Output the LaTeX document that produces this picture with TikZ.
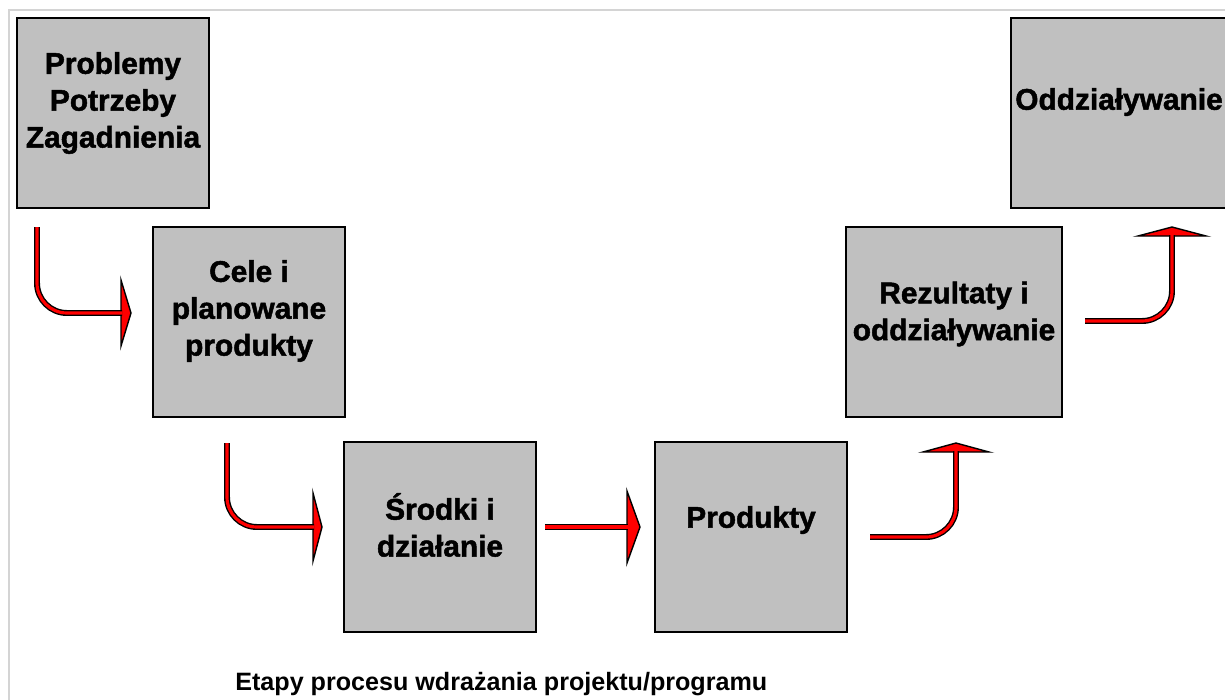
\documentclass[tikz,border=0pt]{standalone}
\usepackage{fontspec}
\setmainfont{Liberation Sans}
\newfontfamily\stagefont[FakeBold=1.6]{Liberation Sans Bold}

\definecolor{boxgray}{RGB}{192,192,192}
\definecolor{framegray}{RGB}{212,212,212}

\tikzset{
  stage/.style={draw=black, line width=1pt, fill=boxgray, minimum width=3.84cm, minimum height=3.8cm, inner sep=0pt},
  stagetext/.style={font=\stagefont\fontsize{17}{21}\selectfont, align=center, inner sep=0pt},
  shaft/.style={draw=black, line width=0.8pt, double=red, double distance=1.8pt, rounded corners=0.6cm},
  head/.style={draw=black, fill=red, line width=0.8pt, line join=miter}
}

\begin{document}
\begin{tikzpicture}[x=0.02cm, y=-0.02cm]

\useasboundingbox (0,0) rectangle (1225,700);
\clip (0,0) rectangle (1225,700);

\draw [framegray, line width=1.2pt] (9,720) -- (9,10) -- (1240,10);

% etapy
\node[stage] (b1) at (113,113) {};
\node[stage] (b2) at (249,322) {};
\node[stage] (b3) at (440,537) {};
\node[stage] (b4) at (751,537) {};
\node[stage, minimum width=4.32cm] (b5) at (954,322) {};
\node[stage, minimum width=4.32cm] (b6) at (1119,113) {};

\node[stagetext] (t1) at (113,103) {Problemy\\Potrzeby\\Zagadnienia};
\node[stagetext] (t2) at (249,311) {Cele i\\planowane\\produkty};
\node[stagetext] (t3) at (440,525) {Środki i\\działanie};
\node[stagetext] (t4) at (751,520) {Produkty};
\node[stagetext] (t5) at (954,314) {Rezultaty i\\oddziaływanie};
\node[stagetext] (t6) at (1119,102) {Oddziaływanie};

% strzalki
\coordinate (a1s) at (37,227);
\coordinate (a1e) at (122,313);
\coordinate (a2s) at (227,443);
\coordinate (a2e) at (314,527);
\coordinate (a3s) at (545,527);
\coordinate (a3e) at (628,527);
\coordinate (a4s) at (870,537);
\coordinate (a4e) at (956,451);
\coordinate (a5s) at (1085,321);
\coordinate (a5e) at (1172,235);

\filldraw[head] ([shift={(-1,-33)}]a1e) -- ([shift={(9,0)}]a1e) -- ([shift={(-1,33)}]a1e) -- cycle;
\draw[shaft] (a1s) |- (a1e);

\filldraw[head] ([shift={(-1,-34)}]a2e) -- ([shift={(8,0)}]a2e) -- ([shift={(-1,34)}]a2e) -- cycle;
\draw[shaft] (a2s) |- (a2e);

\filldraw[head] ([shift={(-1,-36)}]a3e) -- ([shift={(12,0)}]a3e) -- ([shift={(-1,36)}]a3e) -- cycle;
\draw[shaft] (a3s) -- (a3e);

\filldraw[head] ([shift={(-33,1)}]a4e) -- ([shift={(0,-8)}]a4e) -- ([shift={(33,1)}]a4e) -- cycle;
\draw[shaft] (a4s) -| (a4e);

\filldraw[head] ([shift={(-34,1)}]a5e) -- ([shift={(0,-8)}]a5e) -- ([shift={(34,1)}]a5e) -- cycle;
\draw[shaft] (a5s) -| (a5e);

\node[font=\bfseries\fontsize{14.3}{17}\selectfont, anchor=base west, inner sep=0pt] (cap) at (235,690) {Etapy procesu wdrażania projektu/programu};

\end{tikzpicture}
\end{document}
